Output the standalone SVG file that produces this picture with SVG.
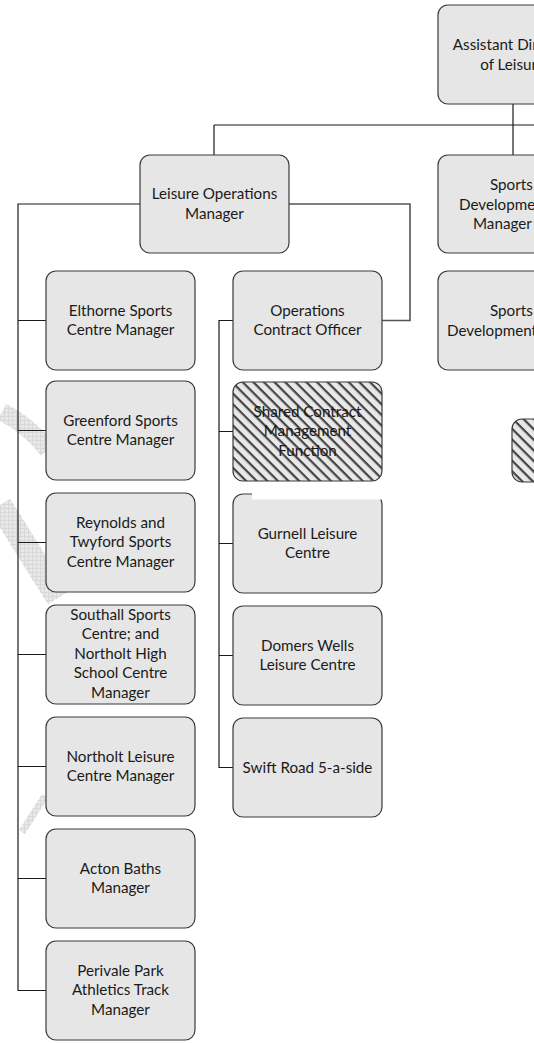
<svg xmlns="http://www.w3.org/2000/svg" width="534" height="1043" viewBox="0 0 534 1043">
<style>
.box{fill:#e6e6e6;stroke:#3a3a3a;stroke-width:1.2}
.hatch{fill:url(#stripes);stroke:#3a3a3a;stroke-width:1.2}
.t{font-family:Lato,"Open Sans",sans-serif;font-size:15.2px;fill:#1a1a1a;text-anchor:middle}
.ts{font-family:Lato,"Open Sans",sans-serif;font-size:15.2px;fill:#1a1a1a;text-anchor:start}
.c{fill:none;stroke:#1a1a1a;stroke-width:1.2}
.c2{fill:none;stroke:#555;stroke-width:1.6}
.wm{fill:none;stroke:url(#wmpat);stroke-linecap:butt}
</style>
<defs>
<pattern id="stripes" patternUnits="userSpaceOnUse" width="7.5" height="7.5" patternTransform="rotate(45)">
<rect width="7.5" height="7.5" fill="#e8e8e8"/>
<rect y="0" width="7.5" height="2.2" fill="#444"/>
</pattern>
<pattern id="wmpat" patternUnits="userSpaceOnUse" width="4" height="4">
<rect width="4" height="4" fill="#e8e8e8"/>
<path d="M0,0.5H4M0.5,0V4" stroke="#d8d8d8" stroke-width="1"/>
</pattern>
</defs>
<g id="watermark">
<path class="wm" d="M2,412 Q28,425 48,450" stroke-width="18"/>
<path class="wm" d="M0,505 L58,598" stroke-width="24"/>
<path class="wm" d="M22,832 L45,796" stroke-width="7"/>
</g>
<g id="connectors">
<path class="c" d="M513,104V155M214,125H534M214,125V155"/>
<path class="c" d="M140,204H18V990.5H46" stroke-width="1.6"/>
<path class="c" d="M18,320.5H46M18,430.5H46M18,542.5H46M18,654.5H46M18,766.5H46M18,878.5H46"/>
<path class="c2" d="M289,204H410V320.5H382"/>
<path class="c" d="M233,320.5H219V767.5H233M219,431.5H233M219,543.5H233M219,655.5H233"/>
</g>
<g id="assistant-director">
<rect class="box" x="438" y="5" width="149" height="99" rx="10"/>
<text class="t" x="512.5" y="50">Assistant Director</text>
<text class="t" x="512.5" y="69.5">of Leisure</text>
</g>
<g id="leisure-operations-manager">
<rect class="box" x="140" y="155" width="149" height="98" rx="10"/>
<text class="t" x="214.5" y="199">Leisure Operations</text>
<text class="t" x="214.5" y="218.5">Manager</text>
</g>
<g id="sports-development-manager">
<rect class="box" x="438" y="155" width="149" height="98" rx="10"/>
<text class="ts" x="490" y="190">Sports</text>
<text class="ts" x="459" y="209.5">Development</text>
<text class="ts" x="473" y="229">Manager</text>
</g>
<g id="sports-development-officer">
<rect class="box" x="438" y="271" width="149" height="99" rx="10"/>
<text class="ts" x="490" y="316">Sports</text>
<text class="ts" x="447" y="335.5">Development Officer</text>
</g>
<g id="sports-hatched">
<rect class="hatch" x="512" y="419" width="149" height="63" rx="10"/>
</g>
<g id="elthorne">
<rect class="box" x="46" y="271" width="149" height="99" rx="10"/>
<text class="t" x="120.5" y="315.5">Elthorne Sports</text>
<text class="t" x="120.5" y="335">Centre Manager</text>
</g>
<g id="greenford">
<rect class="box" x="46" y="381" width="149" height="99" rx="10"/>
<text class="t" x="120.5" y="425.5">Greenford Sports</text>
<text class="t" x="120.5" y="445">Centre Manager</text>
</g>
<g id="reynolds">
<rect class="box" x="46" y="493" width="149" height="99" rx="10"/>
<text class="t" x="120.5" y="527.75">Reynolds and</text>
<text class="t" x="120.5" y="547.25">Twyford Sports</text>
<text class="t" x="120.5" y="566.75">Centre Manager</text>
</g>
<g id="southall">
<rect class="box" x="46" y="605" width="149" height="99" rx="10"/>
<text class="t" x="120.5" y="619.5">Southall Sports</text>
<text class="t" x="120.5" y="639">Centre; and</text>
<text class="t" x="120.5" y="658.5">Northolt High</text>
<text class="t" x="120.5" y="678">School Centre</text>
<text class="t" x="120.5" y="697.5">Manager</text>
</g>
<g id="northolt">
<rect class="box" x="46" y="717" width="149" height="99" rx="10"/>
<text class="t" x="120.5" y="761.5">Northolt Leisure</text>
<text class="t" x="120.5" y="781">Centre Manager</text>
</g>
<g id="acton">
<rect class="box" x="46" y="829" width="149" height="99" rx="10"/>
<text class="t" x="120.5" y="873.5">Acton Baths</text>
<text class="t" x="120.5" y="893">Manager</text>
</g>
<g id="perivale">
<rect class="box" x="46" y="941" width="149" height="99" rx="10"/>
<text class="t" x="120.5" y="975.75">Perivale Park</text>
<text class="t" x="120.5" y="995.25">Athletics Track</text>
<text class="t" x="120.5" y="1014.75">Manager</text>
</g>
<g id="operations-contract-officer">
<rect class="box" x="233" y="271" width="149" height="99" rx="10"/>
<text class="t" x="307.5" y="315.5">Operations</text>
<text class="t" x="307.5" y="335">Contract Officer</text>
</g>
<g id="shared-contract">
<rect class="hatch" x="233" y="382" width="149" height="99" rx="10"/>
<text class="t" x="307.5" y="416.75">Shared Contract</text>
<text class="t" x="307.5" y="436.25">Management</text>
<text class="t" x="307.5" y="455.75">Function</text>
</g>
<g id="gurnell">
<rect class="box" x="233" y="494" width="149" height="99" rx="10"/>
<rect x="252" y="492" width="132" height="7.5" fill="#ffffff"/>
<text class="t" x="307.5" y="538.5">Gurnell Leisure</text>
<text class="t" x="307.5" y="558">Centre</text>
</g>
<g id="domers-wells">
<rect class="box" x="233" y="606" width="149" height="99" rx="10"/>
<text class="t" x="307.5" y="650.5">Domers Wells</text>
<text class="t" x="307.5" y="670">Leisure Centre</text>
</g>
<g id="swift-road">
<rect class="box" x="233" y="718" width="149" height="99" rx="10"/>
<text class="t" x="307.5" y="772.5">Swift Road 5-a-side</text>
</g>
</svg>
